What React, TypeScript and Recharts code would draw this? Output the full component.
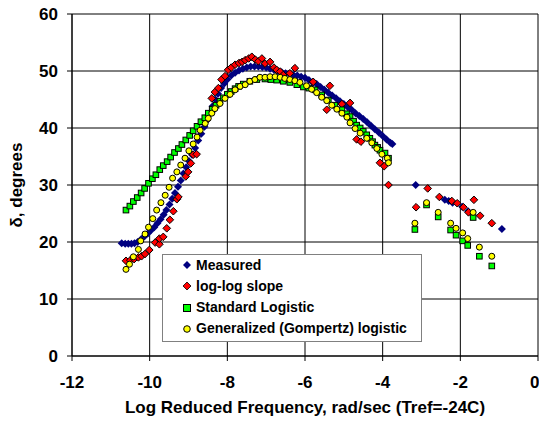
import React from 'react';
import { ScatterChart, Scatter, XAxis, YAxis, CartesianGrid } from 'recharts';

// [log reduced frequency, phase angle in degrees]
const measured: [number, number][] = [
  [-10.72, 19.8], [-10.63, 19.7], [-10.55, 19.7], [-10.47, 19.7], [-10.39, 19.8], [-10.31, 20.0],
  [-10.22, 20.5], [-10.13, 21.0], [-10.05, 21.5], [-9.97, 22.0], [-9.88, 22.6], [-9.8, 23.3],
  [-9.72, 24.0], [-9.64, 24.8], [-9.57, 25.6], [-9.49, 26.6], [-9.42, 27.6], [-9.35, 28.6],
  [-9.27, 29.7], [-9.2, 30.8], [-9.13, 32.0], [-9.06, 33.1], [-8.99, 34.2], [-8.91, 35.3],
  [-8.83, 36.5], [-8.75, 37.8], [-8.67, 39.0], [-8.59, 40.2], [-8.52, 41.4], [-8.45, 42.6],
  [-8.38, 43.8], [-8.31, 45.0], [-8.24, 46.0], [-8.16, 47.0], [-8.08, 47.8], [-8.0, 48.5],
  [-7.9, 49.2], [-7.8, 49.7], [-7.7, 50.1], [-7.6, 50.4], [-7.5, 50.6], [-7.4, 50.8],
  [-7.3, 50.8], [-7.2, 50.8], [-7.1, 50.7], [-7.0, 50.6], [-6.9, 50.4], [-6.8, 50.2],
  [-6.7, 50.0], [-6.6, 49.8], [-6.5, 49.6], [-6.4, 49.5], [-6.3, 49.3], [-6.2, 49.2],
  [-6.1, 49.0], [-6.0, 48.8], [-5.9, 48.4], [-5.8, 48.0], [-5.7, 47.7], [-5.6, 47.2],
  [-5.5, 46.7], [-5.4, 46.2], [-5.3, 45.7], [-5.2, 45.2], [-5.1, 44.7], [-5.0, 44.2],
  [-4.9, 43.7], [-4.8, 43.2], [-4.7, 42.6], [-4.6, 42.1], [-4.5, 41.6], [-4.4, 41.0],
  [-4.3, 40.4], [-4.2, 39.8], [-4.1, 39.2], [-4.0, 38.6], [-3.9, 38.0], [-3.8, 37.4],
  [-3.75, 37.2],
  [-3.15, 30.0], [-2.4, 27.4], [-2.3, 27.2], [-2.2, 26.9], [-1.95, 26.2], [-1.8, 25.4],
  [-0.93, 22.3],
];

const logLogSlope: [number, number][] = [
  [-10.61, 16.7], [-10.5, 16.8], [-10.4, 17.0], [-10.29, 17.3], [-10.21, 17.5], [-10.12, 17.9],
  [-10.01, 18.6], [-9.86, 19.9], [-9.75, 19.6], [-9.75, 20.6], [-9.65, 20.9], [-9.56, 22.4],
  [-9.48, 23.9], [-9.39, 25.4], [-9.3, 27.5], [-9.26, 27.9], [-9.07, 31.5], [-9.01, 32.3],
  [-8.94, 33.8], [-8.88, 35.3], [-8.79, 35.4], [-8.53, 41.4], [-8.4, 45.2], [-8.32, 46.3],
  [-8.23, 47.0], [-8.15, 48.5], [-8.06, 49.1], [-7.98, 50.2], [-7.9, 50.6], [-7.8, 51.1],
  [-7.7, 51.4], [-7.62, 51.6], [-7.54, 51.9], [-7.45, 52.2], [-7.37, 52.5], [-7.28, 52.0],
  [-7.2, 51.7], [-7.11, 52.2], [-7.03, 51.3], [-6.9, 51.6], [-6.8, 50.6], [-6.73, 50.2],
  [-6.64, 49.9], [-6.56, 49.3], [-6.51, 48.4], [-6.39, 49.6], [-6.26, 50.5], [-5.79, 48.1],
  [-5.36, 47.4], [-5.44, 43.2], [-5.05, 44.2], [-4.84, 44.4], [-4.67, 38.0], [-4.56, 37.6],
  [-4.07, 33.9], [-3.96, 33.3], [-3.85, 30.0],
  [-3.14, 26.1], [-2.84, 29.4], [-2.54, 27.9], [-2.22, 27.2], [-2.08, 26.8], [-1.92, 26.1],
  [-1.79, 25.2], [-1.65, 27.4], [-1.49, 24.6], [-1.19, 23.3],
];

const standardLogistic: [number, number][] = [
  [-10.61, 25.6], [-10.51, 26.3], [-10.42, 27.1], [-10.32, 27.8], [-10.22, 28.6], [-10.13, 29.4],
  [-10.03, 30.3], [-9.93, 31.1], [-9.84, 31.8], [-9.74, 32.7], [-9.65, 33.4], [-9.55, 34.1],
  [-9.46, 34.9], [-9.36, 35.7], [-9.26, 36.4], [-9.17, 37.1], [-9.07, 37.9], [-8.97, 38.7],
  [-8.88, 39.5], [-8.78, 40.3], [-8.68, 41.1], [-8.58, 41.8], [-8.49, 42.6], [-8.39, 43.3],
  [-8.29, 44.0], [-8.19, 44.7], [-8.1, 45.3], [-8.0, 45.9], [-7.9, 46.4], [-7.8, 46.9],
  [-7.71, 47.3], [-7.59, 47.7], [-7.42, 48.2], [-7.24, 48.5], [-7.03, 48.6], [-6.88, 48.5],
  [-6.73, 48.4], [-6.56, 48.2], [-6.39, 48.0], [-6.21, 47.6], [-6.04, 47.2], [-5.9, 47.0],
  [-5.74, 46.7], [-5.57, 45.8], [-5.4, 44.9], [-5.23, 44.0], [-5.05, 43.2], [-4.93, 42.5],
  [-4.84, 42.0], [-4.75, 41.2], [-4.67, 40.5], [-4.58, 40.0], [-4.5, 39.4], [-4.41, 38.8],
  [-4.33, 38.2], [-4.26, 37.6], [-4.2, 37.0], [-4.13, 36.6], [-4.07, 36.1], [-3.94, 35.6],
  [-3.85, 34.7],
  [-3.17, 22.2], [-2.87, 26.5], [-2.57, 24.4], [-2.25, 22.1], [-2.11, 21.2], [-1.94, 20.2],
  [-1.81, 19.4], [-1.67, 24.3], [-1.51, 17.5], [-1.19, 15.8],
];

const gompertzLogistic: [number, number][] = [
  [-10.61, 15.2], [-10.52, 16.1], [-10.42, 17.4], [-10.29, 18.7], [-10.23, 20.2], [-10.12, 21.4],
  [-10.03, 22.6], [-9.92, 24.1], [-9.82, 25.6], [-9.71, 26.9], [-9.6, 28.2], [-9.5, 29.6],
  [-9.41, 31.2], [-9.3, 32.3], [-9.2, 33.5], [-9.09, 34.7], [-8.99, 36.0], [-8.88, 37.2],
  [-8.78, 38.4], [-8.7, 39.6], [-8.57, 40.8], [-8.49, 41.7], [-8.4, 42.6], [-8.32, 43.4],
  [-8.19, 44.3], [-8.06, 45.2], [-7.93, 45.9], [-7.8, 46.7], [-7.67, 47.3], [-7.54, 47.6],
  [-7.42, 48.2], [-7.29, 48.5], [-7.16, 48.9], [-7.03, 48.9], [-6.9, 49.0], [-6.77, 49.0],
  [-6.64, 48.9], [-6.52, 48.7], [-6.39, 48.5], [-6.26, 48.3], [-6.13, 48.0], [-5.96, 47.4],
  [-5.83, 46.8], [-5.7, 46.2], [-5.57, 45.4], [-5.44, 44.8], [-5.31, 44.0], [-5.18, 43.3],
  [-5.05, 42.6], [-4.92, 41.9], [-4.84, 40.9], [-4.71, 39.9], [-4.58, 39.1], [-4.41, 38.2],
  [-4.28, 37.4], [-4.15, 36.4], [-4.02, 35.4], [-3.88, 34.7], [-3.85, 33.9],
  [-3.17, 23.3], [-2.87, 26.9], [-2.57, 25.2], [-2.25, 23.3], [-2.11, 22.4], [-1.94, 21.6],
  [-1.81, 20.6], [-1.67, 25.2], [-1.51, 19.1], [-1.19, 17.5],
];

const seriesNames = ['Measured', 'log-log slope', 'Standard Logistic', 'Generalized (Gompertz) logistic'];
const xTicks = [-12, -10, -8, -6, -4, -2, 0];
const yTicks = [0, 10, 20, 30, 40, 50, 60];

const toPoints = (pairs: [number, number][]) => pairs.map(([x, y]) => ({ x, y }));

const FONT = '"Liberation Sans", Arial, sans-serif';

const diamond = (fill: string, r: number, stroke?: string) => (props: any) => {
  const { cx, cy } = props;
  return (
    <polygon
      points={`${cx},${cy - r} ${cx + r},${cy} ${cx},${cy + r} ${cx - r},${cy}`}
      fill={fill}
      stroke={stroke || 'none'}
      strokeWidth={stroke ? 1 : 0}
    />
  );
};

const square = (fill: string, h: number) => (props: any) => {
  const { cx, cy } = props;
  return <rect x={cx - h} y={cy - h} width={h * 2} height={h * 2} fill={fill} stroke="#000" strokeWidth={1} />;
};

const circle = (fill: string, r: number) => (props: any) => {
  const { cx, cy } = props;
  return <circle cx={cx} cy={cy} r={r} fill={fill} stroke="#000" strokeWidth={1} />;
};

const legendMarkers = [
  <polygon points="5,1 9,5 5,9 1,5" fill="#000080" />,
  <polygon points="5,1 9,5 5,9 1,5" fill="#ff0000" stroke="#000" strokeWidth={0.8} />,
  <rect x={1.5} y={1.5} width={7} height={7} fill="#00ff00" stroke="#000" strokeWidth={1} />,
  <circle cx={5} cy={5} r={3.3} fill="#ffff00" stroke="#000" strokeWidth={1} />,
];

const ChartLegend = () => (
  <div
    style={{
      position: 'absolute',
      left: 162,
      top: 254,
      width: 260,
      height: 88,
      boxSizing: 'border-box',
      border: '1px solid #808080',
      background: '#fff',
      fontFamily: FONT,
      fontWeight: 'bold',
      fontSize: 14,
    }}
  >
    {seriesNames.map((name, i) => (
      <div
        key={name}
        style={{ position: 'absolute', left: 19, top: i * 21.3 - 0.5, height: 21, lineHeight: '21px', whiteSpace: 'nowrap' }}
      >
        <svg width={10} height={10} style={{ position: 'absolute', left: 0, top: 5.5 }}>
          {legendMarkers[i]}
        </svg>
        <span style={{ position: 'absolute', left: 14 }}>{name}</span>
      </div>
    ))}
  </div>
);

const tickStyle = { fontFamily: FONT, fontWeight: 'bold', fontSize: 17, fill: '#000' };

export default function App() {
  return (
    <div style={{ position: 'absolute', left: 0, top: 0, width: 539, height: 424, background: '#fff' }}>
      <ScatterChart width={539} height={424} margin={{ top: 14, right: 1, bottom: 0, left: 0 }}>
        <CartesianGrid stroke="#000" strokeWidth={1} horizontalValues={yTicks} verticalValues={xTicks} />
        <XAxis
          type="number"
          dataKey="x"
          domain={[-12, 0]}
          ticks={xTicks}
          height={68}
          stroke="#000"
          tickSize={5}
          tickMargin={15}
          tick={tickStyle}
          allowDataOverflow
          label={({ viewBox }: any) => (
            <text
              x={viewBox.x + viewBox.width / 2}
              y={viewBox.y + 57}
              textAnchor="middle"
              style={{ fontFamily: FONT, fontWeight: 'bold', fontSize: 17 }}
            >
              Log Reduced Frequency, rad/sec (Tref=-24C)
            </text>
          )}
        />
        <YAxis
          type="number"
          dataKey="y"
          domain={[0, 60]}
          ticks={yTicks}
          width={72}
          stroke="#000"
          tickSize={5}
          tickMargin={9}
          tick={tickStyle}
          allowDataOverflow
          label={({ viewBox }: any) => {
            const cx = 22;
            const cy = viewBox.y + viewBox.height / 2;
            return (
              <text
                x={cx}
                y={cy}
                transform={`rotate(-90, ${cx}, ${cy})`}
                textAnchor="middle"
                style={{ fontFamily: FONT, fontWeight: 'bold', fontSize: 17 }}
              >
                δ, degrees
              </text>
            );
          }}
        />
        <Scatter name={seriesNames[0]} data={toPoints(measured)} shape={diamond('#000080', 4)} isAnimationActive={false} />
        <Scatter name={seriesNames[1]} data={toPoints(logLogSlope)} shape={diamond('#ff0000', 3.8, '#000')} isAnimationActive={false} />
        <Scatter name={seriesNames[2]} data={toPoints(standardLogistic)} shape={square('#00ff00', 2.8)} isAnimationActive={false} />
        <Scatter name={seriesNames[3]} data={toPoints(gompertzLogistic)} shape={circle('#ffff00', 3)} isAnimationActive={false} />
      </ScatterChart>
      <ChartLegend />
    </div>
  );
}
